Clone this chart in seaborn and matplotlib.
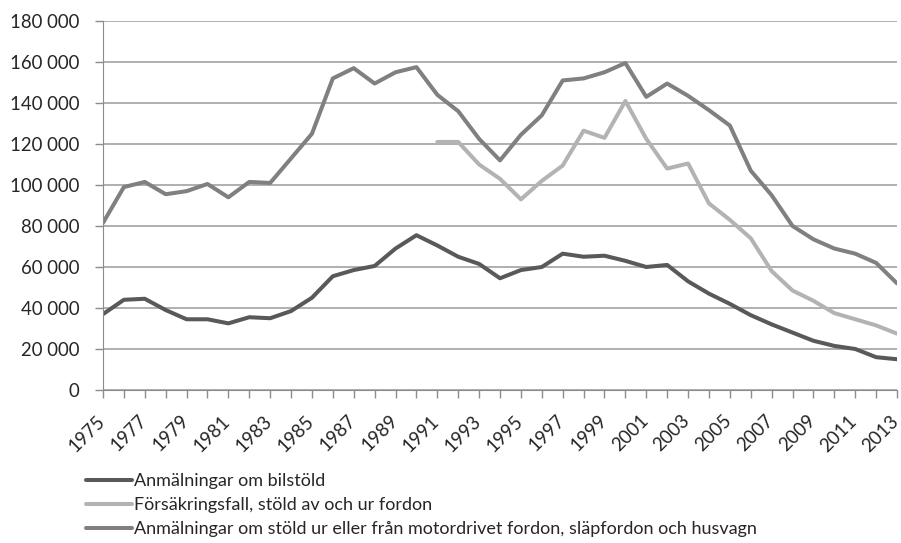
import numpy as np
import pandas as pd
import seaborn as sns
import matplotlib.pyplot as plt
import matplotlib.transforms as mtransforms
from matplotlib.ticker import FuncFormatter, MultipleLocator

# Data
years = list(range(1975, 2014))

bilstold = [37000, 44000, 44500, 39000, 34500, 34500, 32500, 35500, 35000, 38500,
            45000, 55500, 58500, 60500, 69000, 75500, 70500, 65000, 61500, 54500,
            58500, 60000, 66500, 65000, 65500, 63000, 60000, 61000, 53000, 47000,
            42000, 36500, 32000, 28000, 24000, 21500, 20000, 16000, 15000]

forsakring = [np.nan] * 16 + [121000, 121000, 110000, 103000, 93000, 102000, 109500,
                              126500, 123000, 141000, 122500, 108000, 110500, 91000,
                              83000, 74000, 58000, 48500, 43500, 37500, 34500, 31500,
                              27500]

stold_ur = [81500, 99000, 101500, 95500, 97000, 100500, 94000, 101500, 101000, 113000,
            125000, 152000, 157000, 149500, 155000, 157500, 144000, 136000, 122500, 112000,
            124500, 134000, 151000, 152000, 155000, 159500, 143000, 149500, 143500, 136500,
            129000, 107000, 95000, 80000, 73500, 69000, 66500, 62000, 52000]

labels = ["Anmälningar om bilstöld",
          "Försäkringsfall, stöld av och ur fordon",
          "Anmälningar om stöld ur eller från motordrivet fordon, släpfordon och husvagn"]

df = pd.DataFrame({"År": years, labels[0]: bilstold, labels[1]: forsakring, labels[2]: stold_ur})
long = df.melt(id_vars="År", var_name="Serie", value_name="Antal").dropna()

sns.set_style("white")
plt.rcParams['font.family'] = ['Lato', 'DejaVu Sans']

fig = plt.figure(figsize=(9.01, 5.43), dpi=100)
ax = fig.add_axes([0.1143, 0.2818, 0.8813, 0.6795])

colors = ["#595959", "#b3b3b3", "#808080"]
sns.lineplot(data=long, x="År", y="Antal", hue="Serie", hue_order=labels,
             palette=colors, linewidth=2.9, ax=ax, legend=False)

ax.set_xlim(1975, 2013)
ax.set_ylim(0, 180000)
ax.yaxis.set_major_locator(MultipleLocator(20000))
ax.yaxis.set_major_formatter(FuncFormatter(lambda v, p: f"{int(v):,}".replace(",", " ")))
ax.set_xticks(years, minor=True)
ax.set_xticks(years[::2])
ax.set_xticklabels([str(y) for y in years[::2]], rotation=45, ha="right",
                   va="baseline", rotation_mode="anchor")
ax.grid(axis="y", color="#9a9a9a", linewidth=1.1)
ax.set_axisbelow(True)
for s in ["top", "right"]:
    ax.spines[s].set_visible(False)
ax.spines["left"].set_color("#8c8c8c")
ax.spines["bottom"].set_color("#8c8c8c")
ax.tick_params(axis="both", which="both", direction="out", length=6, width=1,
               color="#8c8c8c", labelsize=13.4, bottom=True, left=True)
ax.tick_params(axis="x", which="major", pad=17)
ax.tick_params(axis="y", which="major", pad=11)
ax.set_xlabel("")
ax.set_ylabel("")

# nudge x labels slightly to the right, as in the reference
shift = mtransforms.ScaledTranslation(3 / 100, 0, fig.dpi_scale_trans)
for lbl in ax.get_xticklabels():
    lbl.set_transform(lbl.get_transform() + shift)

handles = [plt.Line2D([], [], color=c, linewidth=2.9) for c in colors]
fig.legend(handles, labels, loc="upper left", bbox_to_anchor=(0.0955, 0.1285),
           frameon=False, fontsize=13, handlelength=2.55, handletextpad=0.1,
           labelspacing=0.45, borderaxespad=0, borderpad=0)

fig.savefig("out.png", dpi=100)
